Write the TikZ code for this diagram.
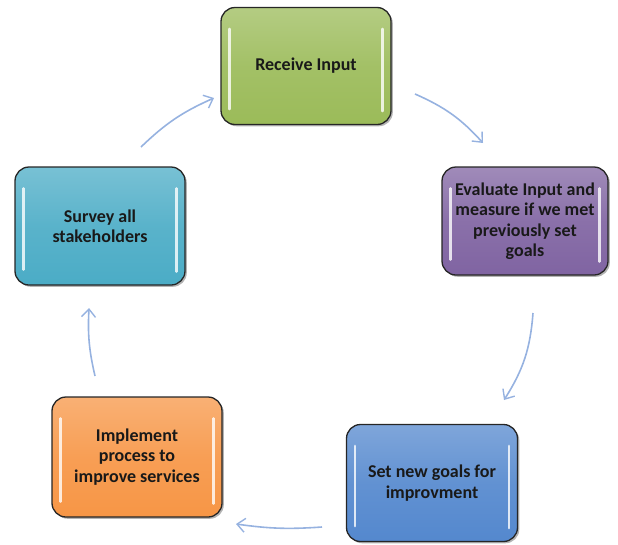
\documentclass[tikz,border=0pt]{standalone}
\usepackage{fontspec}
\setmainfont{Carlito}
\usetikzlibrary{arrows.meta,shadows,calc}
\definecolor{cgreen}{RGB}{155,187,89}
\definecolor{cpurple}{RGB}{128,100,162}
\definecolor{cblue}{RGB}{84,136,206}
\definecolor{corange}{RGB}{247,150,70}
\definecolor{cteal}{RGB}{75,172,198}
\definecolor{carrow}{RGB}{150,178,224}
\tikzset{
  stage/.style={rectangle, rounded corners=14pt, draw=black!85, line width=1.3pt,
    top color=#1!75!white, bottom color=#1, middle color=#1!92!white,
    drop shadow={shadow xshift=1.8pt, shadow yshift=-1.8pt, opacity=0.6},
    align=center, font=\fontsize{18}{20.5}\selectfont\bfseries,
    text=black!90},
  gloss/.style={white, line width=2.4pt, line cap=round, opacity=0.8},
  flow/.style={carrow, line width=1.6pt, -{Straight Barb[length=8pt,width=14pt,line width=1.4pt]}}
}
\newcommand{\glossbox}[1]{%
  \draw[gloss] ($(#1.north west)+(9,22)$) -- ($(#1.south west)+(9,-16)$);
  \draw[gloss] ($(#1.north east)+(-9,22)$) -- ($(#1.south east)+(-9,-14)$);}
\begin{document}
\begin{tikzpicture}[x=1pt,y=-1pt]
\useasboundingbox (0,0) rectangle (618,544);
\node[stage=cgreen, minimum width=170pt, minimum height=117pt] (recv) at (306,66) {Receive Input};
\node[stage=cpurple, minimum width=166pt, minimum height=108pt] (eval) at (525,221) {Evaluate Input and\\ measure if we met\\ previously set\\ goals};
\node[stage=cblue, minimum width=171pt, minimum height=117pt] (goals) at (432,483) {Set new goals for\\ improvment};
\node[stage=corange, minimum width=170pt, minimum height=120pt] (impl) at (137,457) {Implement\\ process to\\ improve services};
\node[stage=cteal, minimum width=170pt, minimum height=118pt] (surv) at (100,226) {Survey all\\ stakeholders};
\glossbox{recv}
\glossbox{eval}
\glossbox{goals}
\glossbox{impl}
\glossbox{surv}
\coordinate (a1s) at (415,94);
\coordinate (a1e) at (483,143);
\coordinate (a2s) at (533,313);
\coordinate (a2e) at (504,400);
\coordinate (a3s) at (322,527);
\coordinate (a3e) at (236,524);
\coordinate (a4s) at (95,376);
\coordinate (a4e) at (89,308);
\coordinate (a5s) at (141,147);
\coordinate (a5e) at (214,98);
\draw[flow] (a1s) to[bend left=12] (a1e);
\draw[flow] (a2s) to[bend left=14] (a2e);
\draw[flow] (a3s) to[bend left=6] (a3e);
\draw[flow] (a4s) to[bend left=8] (a4e);
\draw[flow] (a5s) to[bend left=10] (a5e);
\end{tikzpicture}
\end{document}
